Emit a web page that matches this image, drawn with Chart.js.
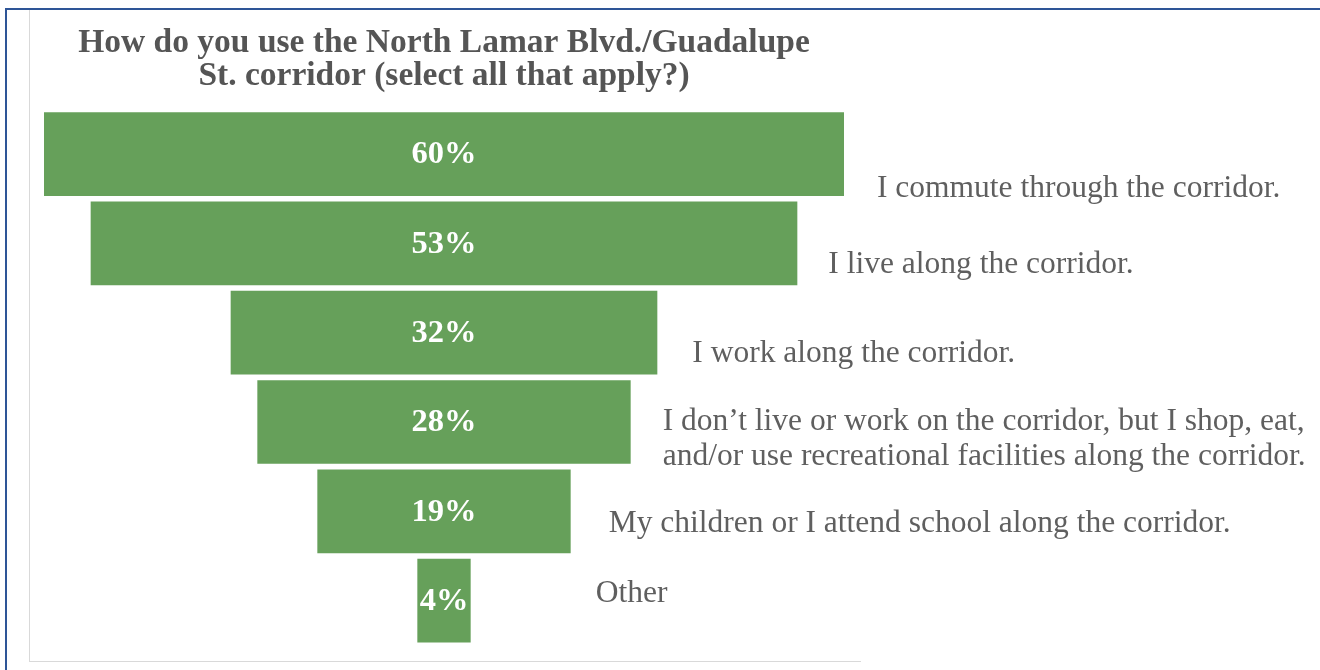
<!DOCTYPE html>
<html>
<head>
<meta charset="utf-8">
<script src="https://cdn.jsdelivr.net/npm/chart.js@4"></script>
<style>
  html, body { margin: 0; padding: 0; background: #fff; }
  #wrap { position: relative; width: 1320px; height: 670px; overflow: hidden; }
  #frame { position: absolute; left: 5px; top: 8px; right: -10px; bottom: -10px;
           border-top: 2px solid #2e5597; border-left: 2px solid #2e5597; }
  #inner { position: absolute; left: 29px; top: 10px; width: 831px; height: 651px;
           border-left: 1px solid #d9d9d9; border-bottom: 1px solid #d9d9d9; }
  canvas { position: absolute; left: 0; top: 0; }
</style>
</head>
<body>
<div id="wrap">
  <div id="frame"></div>
  <div id="inner"></div>
  <canvas id="funnel" width="1320" height="670"></canvas>
</div>
<script>
const categories = [
  'I commute through the corridor.',
  'I live along the corridor.',
  'I work along the corridor.',
  ['I don\u2019t live or work on the corridor, but I shop, eat,',
   'and/or use recreational facilities along the corridor.'],
  'My children or I attend school along the corridor.',
  'Other'
];
const shares = [60, 53, 32, 28, 19, 4];
const percentLabels = ['60%', '53%', '32%', '28%', '19%', '4%'];

// text boxes in the original sit a little off each bar; dx from bar end, dy from bar centre to baseline
const labelNudge = [[33, 42.6], [31, 30], [35, 29.3], [32, 8], [38, 20.7], [125, 1]];

const funnelLabels = {
  id: 'funnelLabels',
  afterDatasetsDraw(chart) {
    const ctx = chart.ctx;
    const meta = chart.getDatasetMeta(0);
    ctx.save();
    meta.data.forEach((bar, i) => {
      const left = Math.min(bar.x, bar.base);
      const right = Math.max(bar.x, bar.base);
      ctx.fillStyle = '#ffffff';
      ctx.font = 'bold 32.5px "Liberation Serif"';
      ctx.textAlign = 'center';
      ctx.textBaseline = 'middle';
      ctx.fillText(percentLabels[i], (left + right) / 2, bar.y + 1);

      ctx.fillStyle = '#5f5f5f';
      ctx.font = '31.5px "Liberation Serif"';
      ctx.textAlign = 'left';
      ctx.textBaseline = 'alphabetic';
      const lines = [].concat(categories[i]);
      lines.forEach((t, k) => {
        ctx.fillText(t, right + labelNudge[i][0], bar.y + labelNudge[i][1] + k * 35);
      });
    });
    ctx.restore();
  }
};

new Chart(document.getElementById('funnel'), {
  type: 'bar',
  data: {
    labels: categories,
    datasets: [{
      data: shares.map(v => [-v / 2, v / 2]),
      backgroundColor: '#66a05a',
      borderWidth: 0,
      barPercentage: 1,
      categoryPercentage: 0.937
    }]
  },
  options: {
    indexAxis: 'y',
    responsive: false,
    animation: false,
    layout: { padding: { left: 44, right: 476, top: 0, bottom: 24.7 } },
    plugins: {
      legend: { display: false },
      tooltip: { enabled: false },
      title: {
        display: true,
        text: ['How do you use the North Lamar Blvd./Guadalupe', 'St. corridor (select all that apply?)'],
        color: '#555555',
        font: { family: 'Liberation Serif', size: 33.5, weight: 'bold', lineHeight: 1 },
        padding: { top: 26.25, bottom: 16.15 }
      }
    },
    scales: {
      x: { display: false, min: -30, max: 30 },
      y: { display: false }
    }
  },
  plugins: [funnelLabels]
});
</script>
</body>
</html>
